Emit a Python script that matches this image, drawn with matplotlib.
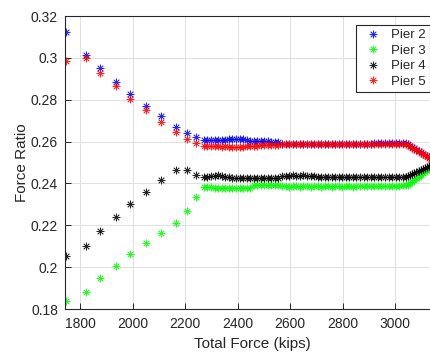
import matplotlib
matplotlib.use("Agg")
import matplotlib.pyplot as plt

plt.rcParams['font.family'] = ['Liberation Sans', 'DejaVu Sans']

# total force (kips)
total_force = [
    1745, 1823, 1877, 1936, 1991, 2050, 2108, 2164, 2207, 2241,
    2272, 2285, 2299, 2312, 2326, 2339, 2353, 2366, 2380, 2393,
    2407, 2420, 2434, 2447, 2461, 2474, 2488, 2501, 2515, 2528,
    2542, 2555, 2569, 2582, 2596, 2609, 2623, 2636, 2650, 2663,
    2677, 2690, 2704, 2717, 2731, 2744, 2758, 2771, 2785, 2798,
    2812, 2825, 2839, 2852, 2866, 2879, 2893, 2906, 2920, 2933,
    2947, 2960, 2974, 2987, 3001, 3014, 3028, 3040,
    3048, 3056, 3064, 3072, 3080, 3088, 3096, 3104, 3112, 3120,
    3128, 3136, 3144, 3152, 3160,
]

pier2 = [
    0.3122, 0.3012, 0.2950, 0.2885, 0.2829, 0.2771, 0.2722, 0.2671, 0.2642, 0.2622,
    0.2606, 0.2607, 0.2606, 0.2607, 0.2606, 0.2607, 0.2608, 0.2611, 0.2612, 0.2612,
    0.2613, 0.2611, 0.2607, 0.2603, 0.2603, 0.2602, 0.2602, 0.2601, 0.2601, 0.2600,
    0.2599, 0.2597, 0.2590, 0.2590, 0.2589, 0.2590, 0.2590, 0.2589, 0.2590, 0.2590,
    0.2589, 0.2590, 0.2590, 0.2589, 0.2590, 0.2590, 0.2589, 0.2590, 0.2590, 0.2589,
    0.2590, 0.2590, 0.2589, 0.2590, 0.2590, 0.2589, 0.2590, 0.2590, 0.2591, 0.2593,
    0.2594, 0.2593, 0.2594, 0.2593, 0.2594, 0.2593, 0.2593, 0.2592,
    0.2587, 0.2580, 0.2574, 0.2567, 0.2561, 0.2555, 0.2548, 0.2542, 0.2536, 0.2530,
    0.2524, 0.2518, 0.2512, 0.2506, 0.2501,
]

pier3 = [
    0.1838, 0.1881, 0.1947, 0.2004, 0.2061, 0.2115, 0.2163, 0.2212, 0.2270, 0.2337,
    0.2385, 0.2383, 0.2381, 0.2379, 0.2378, 0.2378, 0.2377, 0.2377, 0.2376, 0.2377,
    0.2376, 0.2377, 0.2378, 0.2380, 0.2392, 0.2393, 0.2393, 0.2394, 0.2393, 0.2393,
    0.2394, 0.2392, 0.2386, 0.2386, 0.2385, 0.2386, 0.2386, 0.2385, 0.2386, 0.2386,
    0.2385, 0.2386, 0.2386, 0.2385, 0.2386, 0.2386, 0.2385, 0.2386, 0.2386, 0.2385,
    0.2386, 0.2386, 0.2385, 0.2386, 0.2386, 0.2386, 0.2387, 0.2387, 0.2387, 0.2388,
    0.2388, 0.2388, 0.2389, 0.2389, 0.2390, 0.2390, 0.2391, 0.2391,
    0.2393, 0.2401, 0.2409, 0.2417, 0.2425, 0.2433, 0.2441, 0.2449, 0.2456, 0.2463,
    0.2470, 0.2477, 0.2484, 0.2491, 0.2498,
]

pier4 = [
    0.2053, 0.2100, 0.2173, 0.2238, 0.2303, 0.2359, 0.2415, 0.2466, 0.2466, 0.2442,
    0.2430, 0.2432, 0.2434, 0.2437, 0.2438, 0.2436, 0.2432, 0.2429, 0.2426, 0.2425,
    0.2425, 0.2424, 0.2425, 0.2425, 0.2424, 0.2425, 0.2425, 0.2424, 0.2425, 0.2425,
    0.2426, 0.2428, 0.2436, 0.2437, 0.2437, 0.2438, 0.2437, 0.2437, 0.2438, 0.2437,
    0.2436, 0.2435, 0.2433, 0.2430, 0.2429, 0.2429, 0.2430, 0.2429, 0.2429, 0.2430,
    0.2429, 0.2429, 0.2430, 0.2429, 0.2429, 0.2430, 0.2429, 0.2429, 0.2430, 0.2429,
    0.2429, 0.2430, 0.2429, 0.2429, 0.2430, 0.2430, 0.2431, 0.2432,
    0.2434, 0.2439, 0.2444, 0.2449, 0.2454, 0.2459, 0.2464, 0.2469, 0.2474, 0.2479,
    0.2484, 0.2489, 0.2493, 0.2497, 0.2500,
]

pier5 = [
    0.2984, 0.3001, 0.2929, 0.2864, 0.2805, 0.2750, 0.2694, 0.2646, 0.2614, 0.2595,
    0.2577, 0.2578, 0.2577, 0.2578, 0.2577, 0.2576, 0.2577, 0.2575, 0.2575, 0.2574,
    0.2575, 0.2576, 0.2578, 0.2580, 0.2581, 0.2581, 0.2582, 0.2582, 0.2583, 0.2583,
    0.2584, 0.2586, 0.2588, 0.2588, 0.2589, 0.2588, 0.2588, 0.2589, 0.2588, 0.2588,
    0.2589, 0.2588, 0.2588, 0.2589, 0.2588, 0.2588, 0.2589, 0.2588, 0.2588, 0.2589,
    0.2588, 0.2588, 0.2589, 0.2588, 0.2588, 0.2589, 0.2588, 0.2588, 0.2588, 0.2588,
    0.2587, 0.2588, 0.2588, 0.2587, 0.2588, 0.2588, 0.2588, 0.2588,
    0.2583, 0.2577, 0.2571, 0.2565, 0.2559, 0.2553, 0.2547, 0.2541, 0.2535, 0.2529,
    0.2523, 0.2517, 0.2511, 0.2506, 0.2501,
]

series = [
    ('Pier 2', pier2, (0, 0, 1)),
    ('Pier 3', pier3, (0, 1, 0)),
    ('Pier 4', pier4, (0, 0, 0)),
    ('Pier 5', pier5, (1, 0, 0)),
]

xticks = [1800, 2000, 2200, 2400, 2600, 2800, 3000]
yticks = [0.18, 0.2, 0.22, 0.24, 0.26, 0.28, 0.3, 0.32]
ytick_labels = ['0.18', '0.2', '0.22', '0.24', '0.26', '0.28', '0.3', '0.32']

fig = plt.figure(figsize=(4.3, 3.54), dpi=100)
# axes run a bit past the right edge, like the cropped original
ax = fig.add_axes([0.1512, 0.1271, 0.8698, 0.8277])

asterisk = (8, 2, 0)
for name, vals, col in series:
    ax.plot(total_force, vals, linestyle='none', marker=asterisk,
            markersize=5.5, markeredgewidth=0.55, color=col, alpha=0.85,
            label=name)

ax.set_xlim(1743, 3166)
ax.set_ylim(0.18, 0.32)
ax.set_xticks(xticks)
ax.set_yticks(yticks)
ax.set_yticklabels(ytick_labels)

dark = (0.15, 0.15, 0.15)
ax.grid(True, color=(0.88, 0.88, 0.88), linewidth=0.7)
ax.set_axisbelow(True)
ax.tick_params(direction='in', length=4, width=0.7, colors=dark,
               labelsize=10, top=False, right=False, pad=5)
ax.tick_params(axis='x', pad=6)
for sp in ax.spines.values():
    sp.set_color(dark)
    sp.set_linewidth(0.8)

ax.set_xlabel('Total Force (kips)', fontsize=11, color=dark, labelpad=4)
ax.set_ylabel('Force Ratio', fontsize=11, color=dark, labelpad=1)

leg = ax.legend(loc='upper left', bbox_to_anchor=(0.827, 0.929),
                bbox_transform=fig.transFigure, fontsize=9.5,
                fancybox=False, framealpha=1, edgecolor=dark,
                labelspacing=0.25, handlelength=2.1, handletextpad=0.3,
                borderpad=0.3, borderaxespad=0)
leg.get_frame().set_linewidth(0.8)
for t in leg.get_texts():
    t.set_color(dark)

fig.savefig('out.png', dpi=100)
